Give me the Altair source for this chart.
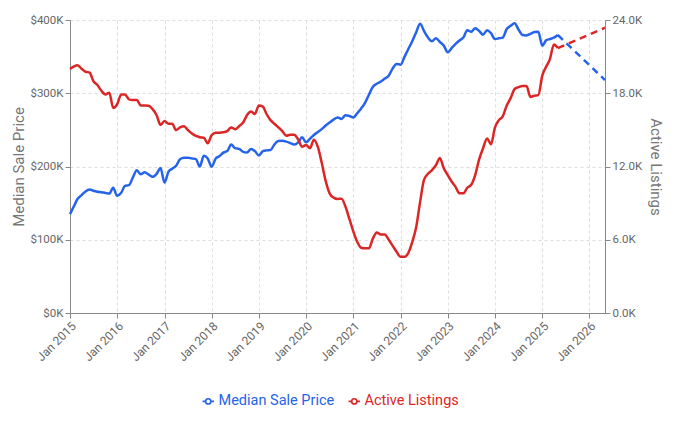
import altair as alt
import pandas as pd

# Monthly actuals, Jan 2015 .. May 2025
months = pd.date_range("2015-01-01", "2025-05-01", freq="MS")
price_k = [
    135, 146, 156, 161, 166, 168.5, 167, 165.5, 165, 164, 163, 171,
    160, 164, 173.6, 174.5, 185, 194.8, 189.3, 192, 189, 186, 190, 198,
    178, 193, 197, 201, 210, 212, 212, 211, 210, 200, 214.8, 211,
    199.7, 211, 214, 219, 221, 230, 225, 224, 220, 219, 224, 221,
    215, 221, 222, 222.4, 230, 234.8, 235, 234, 232, 230, 233, 239.8,
    233, 238, 243, 247, 251, 256, 260, 264, 267, 265, 270, 269,
    267, 273, 279, 287, 298, 309, 313, 316, 320, 324, 334, 340,
    339, 350, 360, 371, 383, 395, 385, 376, 371, 375, 370, 365,
    356, 362, 367, 372, 376, 386, 384, 388.7, 385, 380, 386, 382,
    374, 375, 376, 387.7, 392, 395.5, 387, 379.6, 379, 381, 383.5, 384,
    365, 372.5, 374, 376, 379.5,
]
listings_k = [
    19.98, 20.2, 20.3, 20.0, 19.76, 19.7, 19.0, 18.67, 18.2, 17.9, 18.04, 16.8,
    17.1, 17.9, 17.9, 17.5, 17.45, 17.45, 17.0, 17.0, 16.98, 16.7, 16.2, 15.4,
    15.72, 15.5, 15.5, 14.99, 15.2, 15.3, 14.99, 14.7, 14.5, 14.4, 14.36, 13.9,
    14.58, 14.77, 14.77, 14.8, 14.9, 15.2, 15.05, 15.3, 15.6, 16.2, 16.5, 16.3,
    17.0, 16.9, 16.3, 15.8, 15.5, 15.2, 14.9, 14.52, 14.6, 14.6, 14.2, 13.62,
    13.76, 13.5, 14.2, 13.6, 12.3, 10.8, 9.8, 9.45, 9.34, 9.36, 8.7, 7.7,
    6.66, 5.8, 5.35, 5.3, 5.3, 6.11, 6.6, 6.44, 6.44, 6.0, 5.5, 5.02,
    4.6, 4.6, 4.9, 5.8, 7.0, 9.1, 10.9, 11.4, 11.7, 12.1, 12.7, 11.85,
    11.3, 10.75, 10.35, 9.8, 9.8, 10.26, 10.5, 11.3, 12.6, 13.5, 14.3, 13.82,
    15.2, 15.8, 16.1, 17.0, 17.6, 18.35, 18.5, 18.6, 18.6, 17.7, 17.8, 17.85,
    19.44, 20.2, 20.8, 22.0, 21.7,
]
# Forecast (dashed)
fc_dates = ["2025-05-01", "2026-05-01"]
price_fc_k = [379.5, 318]
listings_fc_k = [21.7, 23.37]

series_names = ["Median Sale Price", "Active Listings"]
series_colors = ["#2563eb", "#dc2626"]

price_df = pd.DataFrame({"date": months, "value": price_k, "series": series_names[0]})
list_df = pd.DataFrame({"date": months, "value": listings_k, "series": series_names[1]})
price_fc_df = pd.DataFrame({"date": pd.to_datetime(fc_dates), "value": price_fc_k, "series": series_names[0]})
list_fc_df = pd.DataFrame({"date": pd.to_datetime(fc_dates), "value": listings_fc_k, "series": series_names[1]})

FONT = "Roboto"
x_dom = [alt.DateTime(year=2015, month=1, date=1), alt.DateTime(year=2026, month=5, date=1)]

x_enc = alt.X(
    "date:T",
    scale=alt.Scale(domain=x_dom),
    axis=alt.Axis(
        title=None, format="%b %Y", labelAngle=-45,
        tickCount={"interval": "year", "step": 1},
        grid=True, gridDash=[3, 3], gridColor="#dddddd",
        domainColor="#888888", tickColor="#888888", labelColor="#666666",
        labelFontSize=12, labelFont=FONT, tickSize=5,
    ),
)

color_enc = alt.Color(
    "series:N",
    scale=alt.Scale(domain=series_names, range=series_colors),
    legend=alt.Legend(
        title=None, orient="none", direction="horizontal",
        legendX=131, legendY=374,
        symbolType="M-1,0L-0.45,0M0.45,0L1,0M0.45,0A0.45,0.45 0 1,1 -0.45,0A0.45,0.45 0 1,1 0.45,0",
        symbolSize=130, symbolStrokeWidth=1.6, symbolFillColor="white",
        labelFontSize=14.5, labelFont=FONT,
        labelColor={"expr": "datum.label == 'Median Sale Price' ? '#2563eb' : '#dc2626'"},
        columnPadding=10, labelOffset=3,
    ),
)

y_price = alt.Y(
    "value:Q",
    scale=alt.Scale(domain=[0, 400]),
    axis=alt.Axis(
        title="Median Sale Price", orient="left", values=[0, 100, 200, 300, 400],
        labelExpr="'$' + format(datum.value, '.0f') + 'K'",
        grid=True, gridDash=[3, 3], gridColor="#dddddd",
        domainColor="#888888", tickColor="#888888", labelColor="#666666",
        labelFontSize=11.5, labelFont=FONT, titleFont=FONT, titleFontSize=15,
        titleFontWeight="normal", titleColor="#777777", titlePadding=3, tickSize=5,
    ),
)
y_list = alt.Y(
    "value:Q",
    scale=alt.Scale(domain=[0, 24]),
    axis=alt.Axis(
        title="Active Listings", orient="right", values=[0, 6, 12, 18, 24],
        labelExpr="format(datum.value, '.1f') + 'K'",
        grid=False,
        domainColor="#888888", tickColor="#888888", labelColor="#666666",
        labelFontSize=11.5, labelFont=FONT, titleFont=FONT, titleFontSize=15,
        titleFontWeight="normal", titleColor="#777777", titlePadding=6, tickSize=5,
    ),
)

lw = 2.5
price_solid = alt.Chart(price_df).mark_line(strokeWidth=lw, interpolate="monotone").encode(x=x_enc, y=y_price, color=color_enc)
price_dash = alt.Chart(price_fc_df).mark_line(strokeWidth=lw, strokeDash=[7, 5]).encode(x=x_enc, y=y_price, color=color_enc)
list_solid = alt.Chart(list_df).mark_line(strokeWidth=lw, interpolate="monotone").encode(x=x_enc, y=y_list, color=color_enc)
list_dash = alt.Chart(list_fc_df).mark_line(strokeWidth=lw, strokeDash=[7, 5]).encode(x=x_enc, y=y_list, color=color_enc)

chart = (
    alt.layer(alt.layer(price_solid, price_dash), alt.layer(list_solid, list_dash))
    .resolve_scale(y="independent")
    .properties(
        width=535, height=293,
        autosize=alt.AutoSizeParams(type="none"),
        padding={"left": 62, "top": 12, "right": 65, "bottom": 100},
        background="white",
    )
    .configure_view(stroke=None)
)

chart.save("out.html", embed_options={"renderer": "svg", "actions": False})
